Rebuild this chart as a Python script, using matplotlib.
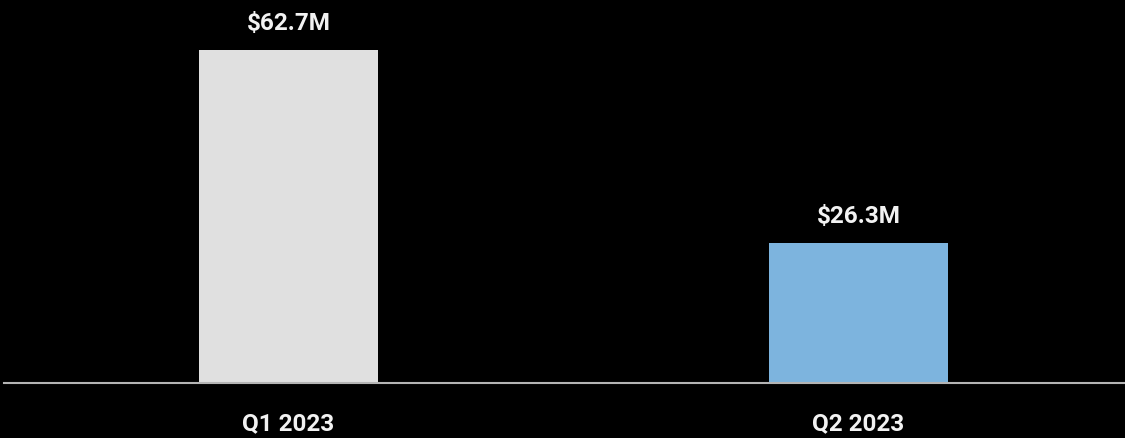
import matplotlib.pyplot as plt
from matplotlib import font_manager

quarters = ["Q1 2023", "Q2 2023"]
values = [62.7, 26.3]
labels = ["$62.7M", "$26.3M"]
colors = ["#e0e0e0", "#7db4de"]

names = {f.name for f in font_manager.fontManager.ttflist}
family = "Liberation Sans Narrow" if "Liberation Sans Narrow" in names else "Roboto"

fig = plt.figure(figsize=(11.25, 4.38), dpi=100, facecolor="black")
ax = fig.add_axes([4 / 1125, 1 - 383 / 438, 1 - 4 / 1125, 383 / 438])
ax.set_facecolor("black")

x = list(range(len(quarters)))
ax.bar(x, values, width=179 / 570, color=colors, zorder=2)
ax.set_xlim(-284.5 / 570, 836.5 / 570)
ax.set_ylim(0, 383 / (333 / 62.7))

for xi, v, lab in zip(x, values, labels):
    ax.annotate(lab, (xi, v), xytext=(0, 15), textcoords="offset pixels",
                ha="center", va="bottom", color="#f2f2f2",
                fontsize=17.5, fontweight="bold", family=family)

for s in ["top", "right", "left"]:
    ax.spines[s].set_visible(False)
ax.spines["bottom"].set_color("#b4b4b4")
ax.spines["bottom"].set_linewidth(1.5)
ax.set_yticks([])
ax.set_xticks(x)
ax.set_xticklabels(quarters, color="#f2f2f2", fontsize=17.5,
                   fontweight="bold", family=family)
ax.tick_params(axis="x", length=0, pad=21)

fig.savefig("out.png", dpi=100, facecolor="black")
